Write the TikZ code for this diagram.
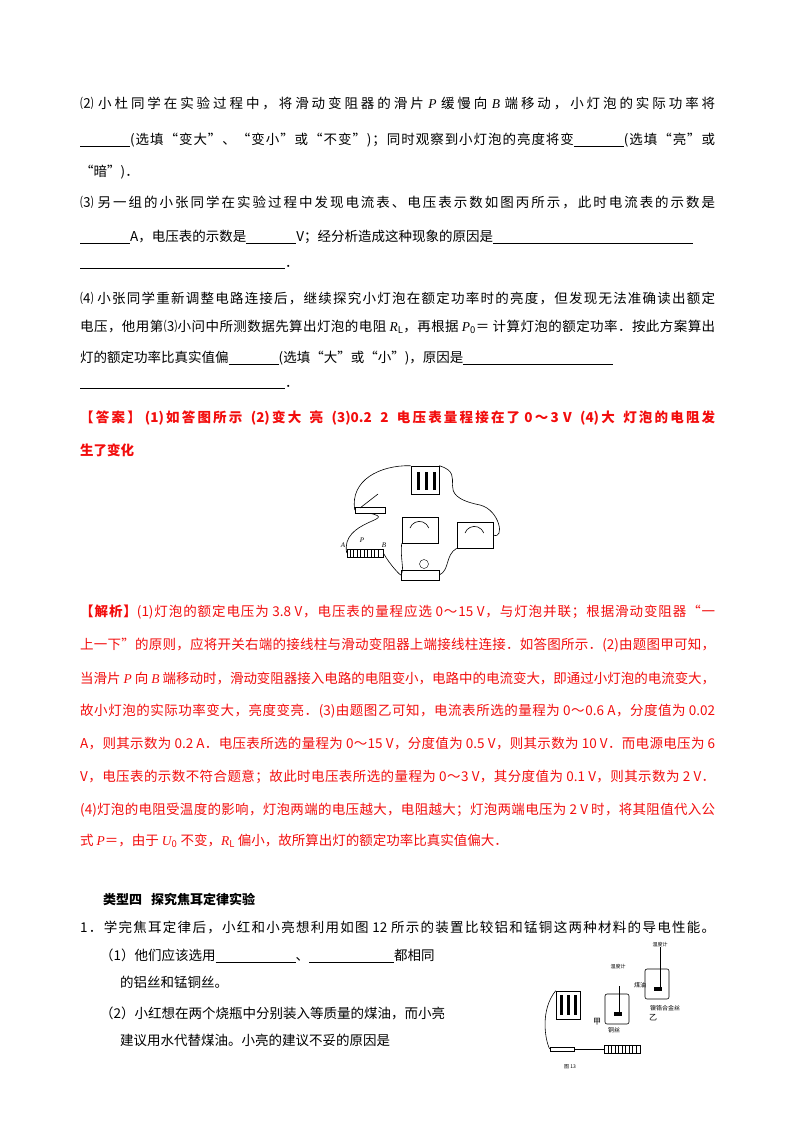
\documentclass[tikz,border=0pt]{standalone}
\usepackage{fontspec}
\setmainfont{Liberation Serif}
\newfontfamily\cjk{Noto Sans CJK SC}
\definecolor{ansred}{rgb}{0.95,0.05,0.05}
% CJK characters get a class so that full lines can be stretched
\newcount\cc
\cc="3000 \loop \XeTeXcharclass\cc=1 \advance\cc 1 \ifnum\cc<"3040 \repeat
\cc="4E00 \loop \XeTeXcharclass\cc=1 \advance\cc 1 \ifnum\cc<"A000 \repeat
\cc="FF00 \loop \XeTeXcharclass\cc=1 \advance\cc 1 \ifnum\cc<"FF60 \repeat
\XeTeXcharclass"201C=1 \XeTeXcharclass"201D=1 \XeTeXcharclass"2474=1 \XeTeXcharclass"2475=1 \XeTeXcharclass"2476=1
\XeTeXinterchartoks 1 1 {\hskip 0pt plus 3pt minus 1pt}
\XeTeXinterchartoks 0 1 {\hskip 0pt plus 3pt minus 1pt}
\XeTeXinterchartoks 1 0 {\hskip 0pt plus 3pt minus 1pt}
\newcommand{\fl}[1]{\hbox to 635pt{\XeTeXinterchartokenstate=1 #1}}
\tikzset{
  txt/.style={anchor=west,inner sep=0pt,font=\cjk\fontsize{13.5}{16}\selectfont},
  ans/.style={txt,text=ansred},
  small/.style={inner sep=0pt,font=\cjk\fontsize{5}{6}\selectfont},
  part/.style={draw,line width=0.6pt},
  wire/.style={line width=0.6pt}
}
\newcommand{\ita}[1]{{\rmfamily\itshape #1}}
\begin{document}
\begin{tikzpicture}[x=1pt,y=-1pt]
\useasboundingbox (0,0) rectangle (800,1132);
% question text
\node[txt] (q1) at (80,103) {\fl{⑵ 小杜同学在实验过程中，将滑动变阻器的滑片 \ita{P} 缓慢向 \ita{B} 端移动，小灯泡的实际功率将}};
\node[txt] (q2) at (80,140) {\fl{\underline{\hspace{50pt}}(选填“变大”、“变小”或“不变”)；同时观察到小灯泡的亮度将变\underline{\hspace{50pt}}(选填“亮”或}};
\node[txt] (q3) at (80,172) {“暗”)．};
\node[txt] (q4) at (80,202) {\fl{⑶ 另一组的小张同学在实验过程中发现电流表、电压表示数如图丙所示，此时电流表的示数是}};
\node[txt] (q5) at (80,237) {\underline{\hspace{50pt}}A，电压表的示数是\underline{\hspace{50pt}}V；经分析造成这种现象的原因是\underline{\hspace{200pt}}};
\node[txt] (q6) at (80,267) {\underline{\hspace{205pt}}．};
\node[txt] (q7) at (80,298) {\fl{⑷ 小张同学重新调整电路连接后，继续探究小灯泡在额定功率时的亮度，但发现无法准确读出额定}};
\node[txt] (q8) at (80,327) {\fl{电压，他用第⑶小问中所测数据先算出灯泡的电阻 \ita{R}\textsubscript{L}，再根据 \ita{P}\textsubscript{0}＝ 计算灯泡的额定功率．按此方案算出}};
\node[txt] (q9) at (80,358) {灯的额定功率比真实值偏\underline{\hspace{50pt}}(选填“大”或“小”)，原因是\underline{\hspace{150pt}}};
\node[txt] (q10) at (80,387) {\underline{\hspace{205pt}}．};
% answer
\node[ans,font=\cjk\bfseries\fontsize{13.5}{16}\selectfont] (a1) at (80,418) {\fl{【答案】 (1)如答图所示 \ (2)变大 \ 亮 \ (3)0.2 \ 2 \ 电压表量程接在了 0～3 V \ (4)大 \ 灯泡的电阻发}};
\node[ans,font=\cjk\bfseries\fontsize{13.5}{16}\selectfont] (a2) at (80,450) {生了变化};
% answer circuit
\node[part,minimum width=28pt,minimum height=28pt,inner sep=0pt] (bat) at (425,480) {};
\foreach \i in {-8,0,8} \fill (425+\i,472) rectangle (428+\i,490);
\node[part,minimum width=30pt,minimum height=6pt,inner sep=0pt] (sw) at (370,510) {};
\draw[wire] (360,508) -- (378,494);
\node[part,minimum width=36pt,minimum height=26pt,inner sep=0pt] (vm) at (420,530) {};
\draw[wire] (410,528) arc (200:340:10);
\node[part,minimum width=36pt,minimum height=26pt,inner sep=0pt] (am) at (475,535) {};
\draw[wire] (465,533) arc (200:340:10);
\node[part,minimum width=36pt,minimum height=8pt,inner sep=0pt] (rh) at (365,553) {};
\foreach \i in {0,...,8} \draw (350+\i*3.5,549) -- (350+\i*3.5,557);
\node[small,font=\itshape\fontsize{7}{8}\selectfont] (ra) at (343,545) {A};
\node[small,font=\itshape\fontsize{7}{8}\selectfont] (rp) at (362,540) {P};
\node[small,font=\itshape\fontsize{7}{8}\selectfont] (rb) at (384,545) {B};
\node[part,minimum width=38pt,minimum height=10pt,inner sep=0pt] (lamp) at (420,575) {};
\node[draw,circle,minimum size=9pt,inner sep=0pt] (bulb) at (424,564) {};
\draw[wire] (bat.north west) .. controls (380,465) and (350,480) .. (sw.west);
\draw[wire] (bat.north east) .. controls (470,475) and (430,495) .. (480,505) .. controls (500,510) and (505,540) .. (am.east);
\draw[wire] (sw.south) .. controls (400,520) and (340,520) .. (rh.west);
\draw[wire] (rh.east) .. controls (390,565) and (400,575) .. (lamp.west);
\draw[wire] (vm.south west) .. controls (400,560) and (405,570) .. (lamp.west);
\draw[wire] (am.south west) .. controls (445,555) and (450,570) .. (lamp.east);
% analysis
\node[ans] (j1) at (80,612) {\fl{\textbf{【解析】}(1)灯泡的额定电压为 3.8 V，电压表的量程应选 0～15 V，与灯泡并联；根据滑动变阻器“一}};
\node[ans] (j2) at (80,645) {\fl{上一下”的原则，应将开关右端的接线柱与滑动变阻器上端接线柱连接．如答图所示．(2)由题图甲可知，}};
\node[ans] (j3) at (80,678) {\fl{当滑片 \ita{P} 向 \ita{B} 端移动时，滑动变阻器接入电路的电阻变小，电路中的电流变大，即通过小灯泡的电流变大，}};
\node[ans] (j4) at (80,711) {\fl{故小灯泡的实际功率变大，亮度变亮．(3)由题图乙可知，电流表所选的量程为 0～0.6 A，分度值为 0.02}};
\node[ans] (j5) at (80,744) {\fl{A，则其示数为 0.2 A．电压表所选的量程为 0～15 V，分度值为 0.5 V，则其示数为 10 V．而电源电压为 6}};
\node[ans] (j6) at (80,777) {\fl{V，电压表的示数不符合题意；故此时电压表所选的量程为 0～3 V，其分度值为 0.1 V，则其示数为 2 V．}};
\node[ans] (j7) at (80,810) {\fl{(4)灯泡的电阻受温度的影响，灯泡两端的电压越大，电阻越大；灯泡两端电压为 2 V 时，将其阻值代入公}};
\node[ans] (j8) at (80,841) {式 \ita{P}＝，由于 \ita{U}\textsubscript{0} 不变，\ita{R}\textsubscript{L} 偏小，故所算出灯的额定功率比真实值偏大．};
% type four
\node[txt,font=\cjk\bfseries\fontsize{13}{16}\selectfont] (t4) at (103,899) {类型四 \ \ 探究焦耳定律实验};
\node[txt] (p1) at (80,927) {\fl{1．学完焦耳定律后，小红和小亮想利用如图 12 所示的装置比较铝和锰铜这两种材料的导电性能。}};
\node[txt] (p2) at (100,956) {（1）他们应该选用\underline{\hspace{80pt}}、\underline{\hspace{85pt}}都相同};
\node[txt] (p3) at (120,982) {的铝丝和锰铜丝。};
\node[txt] (p4) at (100,1013) {（2）小红想在两个烧瓶中分别装入等质量的煤油，而小亮};
\node[txt] (p5) at (120,1040) {建议用水代替煤油。小亮的建议不妥的原因是};
% figure 13
\node[part,minimum width=24pt,minimum height=28pt,inner sep=0pt] (bat2) at (568,1005) {};
\foreach \i in {-7,0,7} \fill (567+\i,995) rectangle (570+\i,1015);
\node[part,minimum width=24pt,minimum height=4pt,inner sep=0pt] (sw2) at (562,1049) {};
\node[part,minimum width=36pt,minimum height=8pt,inner sep=0pt] (rh2) at (622,1049) {};
\foreach \i in {0,...,8} \draw (608+\i*3.5,1046) -- (608+\i*3.5,1053);
\node[part,rounded corners=2pt,minimum width=24pt,minimum height=30pt,inner sep=0pt] (fa) at (617,1009) {};
\node[part,rounded corners=2pt,minimum width=24pt,minimum height=30pt,inner sep=0pt] (fb) at (657,984) {};
\draw[wire] (619,986) -- (619,1012);
\draw[wire] (660,947) -- (660,987);
\fill (614,1012) rectangle (622,1016);
\fill (654,987) rectangle (662,991);
\node[small] (tha) at (618,967) {温度计};
\node[small] (thb) at (660,945) {温度计};
\node[small,font=\cjk\fontsize{6}{7}\selectfont] (oil) at (640,985) {煤油};
\node[small,font=\cjk\fontsize{6}{7}\selectfont] (ni) at (665,1008) {镍铬合金丝};
\node[small,font=\cjk\fontsize{8}{9}\selectfont] (yi) at (653,1018) {乙};
\node[small,font=\cjk\fontsize{8}{9}\selectfont] (jia) at (597,1022) {甲};
\node[small,font=\cjk\fontsize{6}{7}\selectfont] (cu) at (614,1030) {铜丝};
\node[small] (f13) at (570,1067) {图 13};
\draw[wire] (bat2.north west) .. controls (540,1010) and (545,1040) .. (sw2.west);
\draw[wire] (sw2.east) -- (rh2.west);
\end{tikzpicture}
\end{document}
